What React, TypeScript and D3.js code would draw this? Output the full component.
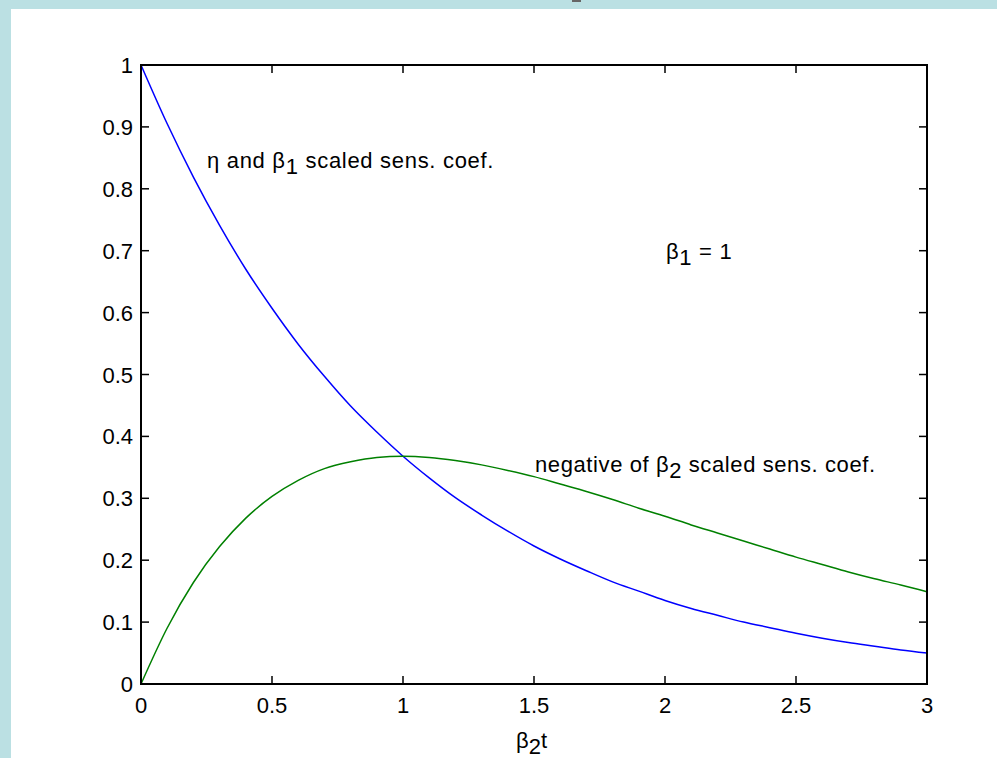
import React from "react";
import * as d3 from "d3";

const tValues = [0, 0.1, 0.2, 0.3, 0.4, 0.5, 0.6, 0.7, 0.8, 0.9, 1.0, 1.1, 1.2, 1.3, 1.4, 1.5, 1.6, 1.7, 1.8, 1.9, 2.0, 2.1, 2.2, 2.3, 2.4, 2.5, 2.6, 2.7, 2.8, 2.9, 3.0];
const etaBeta1 = [1, 0.905, 0.819, 0.741, 0.670, 0.607, 0.549, 0.497, 0.449, 0.407, 0.368, 0.333, 0.301, 0.273, 0.247, 0.223, 0.202, 0.183, 0.165, 0.150, 0.135, 0.122, 0.111, 0.100, 0.091, 0.082, 0.074, 0.067, 0.061, 0.055, 0.050];
const negBeta2 = [0, 0.0905, 0.164, 0.222, 0.268, 0.303, 0.329, 0.348, 0.359, 0.366, 0.368, 0.366, 0.361, 0.354, 0.345, 0.335, 0.323, 0.311, 0.298, 0.284, 0.271, 0.257, 0.244, 0.231, 0.218, 0.205, 0.193, 0.181, 0.170, 0.160, 0.149];
const xTicks = [0, 0.5, 1, 1.5, 2, 2.5, 3];
const yTicks = [0, 0.1, 0.2, 0.3, 0.4, 0.5, 0.6, 0.7, 0.8, 0.9, 1];

const W = 997;
const H = 758;
const left = 141, right = 927, top = 65, bottom = 684;
const FONT = "'Liberation Sans', Arial, sans-serif";
const FS = 22;

export default function App() {
  const x = d3.scaleLinear().domain([0, 3]).range([left, right]);
  const y = d3.scaleLinear().domain([0, 1]).range([bottom, top]);
  const line = d3
    .line<number>()
    .x((_, i) => x(tValues[i]))
    .y((d) => y(d))
    .curve(d3.curveMonotoneX);
  const tick = 8;
  const fmt = (v: number) => (v === 0 ? "0" : String(v));
  return (
    <svg
      width={W}
      height={H}
      style={{ position: "absolute", left: 0, top: 0, display: "block" }}
    >
      <rect x={0} y={0} width={W} height={H} fill="#bbe0e3" />
      <rect x={11} y={9} width={W - 11} height={H - 9} fill="#ffffff" />
      <rect x={572} y={0} width={9} height={2} fill="#666666" />
      <g>
        <path d={line(etaBeta1) || ""} fill="none" stroke="#0000ff" strokeWidth={1.5} />
        <path d={line(negBeta2) || ""} fill="none" stroke="#008000" strokeWidth={1.5} />
      </g>
      <rect
        x={left}
        y={top}
        width={right - left}
        height={bottom - top}
        fill="none"
        stroke="#000"
        strokeWidth={2}
      />
      {xTicks.map((v) => (
        <g key={"x" + v}>
          <line x1={x(v)} x2={x(v)} y1={bottom} y2={bottom - tick} stroke="#000" strokeWidth={1.5} />
          <line x1={x(v)} x2={x(v)} y1={top} y2={top + tick} stroke="#000" strokeWidth={1.5} />
          <text
            x={x(v)}
            y={bottom + 29}
            textAnchor="middle"
            fontFamily={FONT}
            fontSize={FS}
            fill="#000"
          >
            {fmt(v)}
          </text>
        </g>
      ))}
      {yTicks.map((v) => (
        <g key={"y" + v}>
          <line x1={left} x2={left + tick} y1={y(v)} y2={y(v)} stroke="#000" strokeWidth={1.5} />
          <line x1={right} x2={right - tick} y1={y(v)} y2={y(v)} stroke="#000" strokeWidth={1.5} />
          <text
            x={left - 8}
            y={y(v) + 8}
            textAnchor="end"
            fontFamily={FONT}
            fontSize={FS}
            fill="#000"
          >
            {fmt(v)}
          </text>
        </g>
      ))}
      <text x={516} y={748} fontFamily={FONT} fontSize={FS} fill="#000">
        β<tspan dy={6}>2</tspan>
        <tspan dy={-6}>t</tspan>
      </text>
      <text x={207} y={168} fontFamily={FONT} fontSize={FS} fill="#000" letterSpacing={0.7}>
        η and β<tspan dy={6}>1</tspan>
        <tspan dy={-6}> scaled sens. coef.</tspan>
      </text>
      <text x={535} y={472} fontFamily={FONT} fontSize={FS} fill="#000" letterSpacing={0.6}>
        negative of β<tspan dy={6}>2</tspan>
        <tspan dy={-6}> scaled sens. coef.</tspan>
      </text>
      <text x={666} y={259} fontFamily={FONT} fontSize={FS} fill="#000" letterSpacing={0.7}>
        β<tspan dy={6}>1</tspan>
        <tspan dy={-6}> = 1</tspan>
      </text>
    </svg>
  );
}
